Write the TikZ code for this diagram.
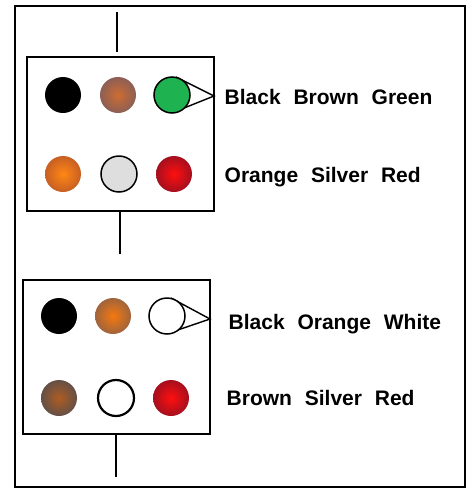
\documentclass[tikz,border=0pt]{standalone}
\usepackage{fontspec}
\newfontfamily\lab[WordSpace=2.2]{Liberation Sans}
\usetikzlibrary{calc}
\definecolor{ballgreen}{RGB}{30,178,80}
\definecolor{ballsilver}{RGB}{222,222,222}
\definecolor{brownin}{RGB}{205,108,50}
\definecolor{brownout}{RGB}{140,95,85}
\definecolor{orangein}{RGB}{255,135,20}
\definecolor{orangeout}{RGB}{200,95,35}
\definecolor{redin}{RGB}{255,15,15}
\definecolor{redout}{RGB}{165,15,30}
\definecolor{orangebin}{RGB}{245,120,15}
\definecolor{orangebout}{RGB}{160,100,60}
\definecolor{brownbin}{RGB}{175,92,35}
\definecolor{brownbout}{RGB}{100,80,70}
\begin{document}
\begin{tikzpicture}[x=1pt,y=-1pt,
  line width=1.4pt,
  panel/.style={draw, minimum width=187pt, minimum height=154pt, inner sep=0pt},
  ball/.style={circle, minimum size=36pt, inner sep=0pt},
  shadedball/.style 2 args={ball, inner color=#1, outer color=#2},
  rimball/.style={ball, draw, line width=1.5pt},
  caption/.style={anchor=base west, inner sep=0pt, font=\lab\bfseries\fontsize{21}{25}\selectfont}]
  \useasboundingbox (0,0) rectangle (469,488);
  % outer frame
  \draw (15,6) rectangle (465,487);

  % upper panel
  \node[panel] (p1) at (120.5,134) {};
  \coordinate (ca3) at (172,95);
  \coordinate (tipA) at (214,96);
  % pointer wedge, drawn first so the ball covers its inner ends
  \draw ($(ca3)+(0,-18)+(4,0)$) -- (tipA) -- ($(ca3)+(0,17)+(2,0)$);
  \node[ball, fill=black] (a1) at (63,95) {};
  \node[shadedball={brownin}{brownout}] (a2) at (118,95) {};
  \node[rimball, fill=ballgreen] (a3) at (ca3) {};
  \node[shadedball={orangein}{orangeout}] (a4) at (63,174) {};
  \node[rimball, fill=ballsilver] (a5) at (119,174) {};
  \node[shadedball={redin}{redout}] (a6) at (174,174) {};
  \node[caption] (la) at (224,104) {Black Brown Green};
  \node[caption] (lb) at (224,182) {Orange Silver Red};

  % lower panel
  \node[panel] (p2) at (116.5,357) {};
  \coordinate (cb3) at (167,316);
  \coordinate (tipB) at (210,319);
  \draw ($(cb3)+(0,-18)+(4,0)$) -- (tipB) -- ($(cb3)+(0,17)+(2,0)$);
  \node[ball, fill=black] (b1) at (59,316) {};
  \node[shadedball={orangebin}{orangebout}] (b2) at (113,316) {};
  \node[rimball, fill=white] (b3) at (cb3) {};
  \node[shadedball={brownbin}{brownbout}] (b4) at (59,398) {};
  \node[rimball, fill=white, line width=2.2pt] (b5) at (116,398) {};
  \node[shadedball={redin}{redout}] (b6) at (171,398) {};
  \node[caption] (lc) at (228,329) {Black Orange White};
  \node[caption] (ld) at (226,405.5) {Brown Silver Red};

  % vertical leads
  \coordinate (t0) at (117,12);
  \coordinate (t1) at (117,52);
  \draw (t0) -- (t1);
  \coordinate (m0) at (120,211);
  \coordinate (m1) at (120,254);
  \draw (m0) -- (m1);
  \coordinate (u0) at (116,434);
  \coordinate (u1) at (116,477);
  \draw (u0) -- (u1);
\end{tikzpicture}
\end{document}
